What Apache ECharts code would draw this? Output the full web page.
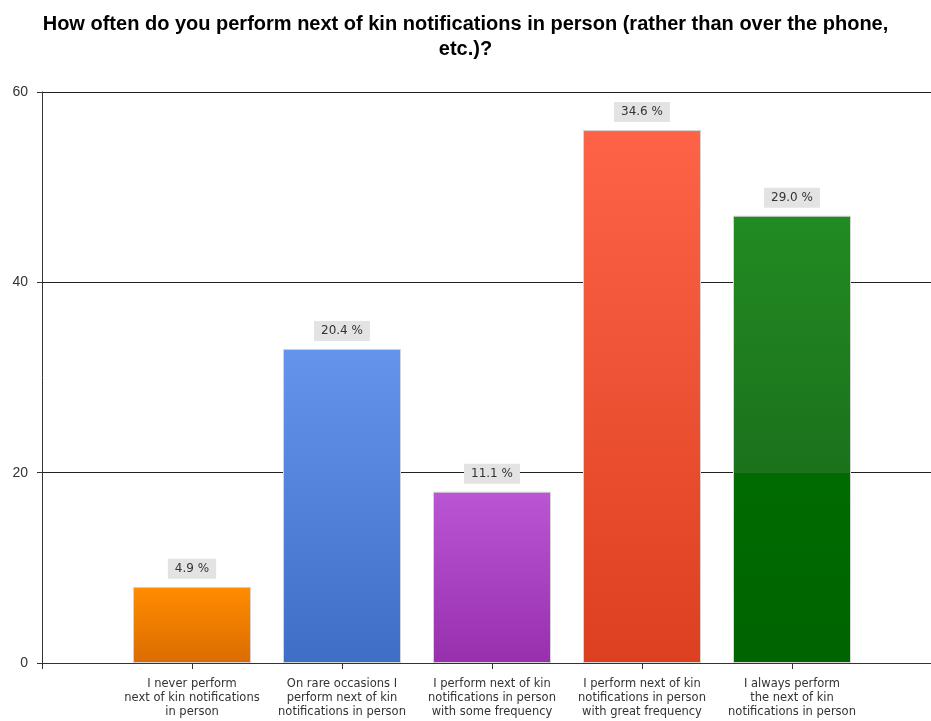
<!DOCTYPE html>
<html>
<head>
<meta charset="utf-8">
<title>Next of kin notifications</title>
<script src="https://cdn.jsdelivr.net/npm/echarts@6/dist/echarts.min.js"></script>
<style>
  html, body { margin: 0; padding: 0; background: #fff; }
  #chart { width: 931px; height: 721px; }
</style>
</head>
<body>
<div id="chart"></div>
<script>
// Survey answers (response counts) and the y-axis scale
const categories = [
  'I never perform\nnext of kin notifications\nin person',
  'On rare occasions I\nperform next of kin\nnotifications in person',
  'I perform next of kin\nnotifications in person\nwith some frequency',
  'I perform next of kin\nnotifications in person\nwith great frequency',
  'I always perform\nthe next of kin\nnotifications in person'
];
const counts = [8, 33, 18, 56, 47];
const yTicks = [0, 20, 40, 60];

const total = counts.reduce((a, b) => a + b, 0);

// Top/bottom colours of each bar's vertical gradient
const barColors = [
  ['#FF8C00', '#DC6C00'],
  ['#6495ED', '#3E6EC6'],
  ['#BA55D3', '#9830AE'],
  ['#FF6347', '#DC4020'],
  ['#228B22', '#006400']
];

function gradientFor(i, value) {
  const [top, bottom] = barColors[i];
  if (i === 4) {
    // the green bar switches shade sharply at the 20 gridline
    const f = Math.max(0, Math.min(1, (value - yTicks[1]) / value));
    return new echarts.graphic.LinearGradient(0, 0, 0, 1, [
      { offset: 0, color: top },
      { offset: f, color: '#1B721B' },
      { offset: f, color: '#006C00' },
      { offset: 1, color: bottom }
    ]);
  }
  return new echarts.graphic.LinearGradient(0, 0, 0, 1, [
    { offset: 0, color: top },
    { offset: 1, color: bottom }
  ]);
}

// Padding slots at both ends so the bars sit on evenly spaced ticks
const axisData = [''].concat(categories, ['']);
const seriesData = [null].concat(counts.map((v, i) => ({
  value: v,
  itemStyle: { color: gradientFor(i, v) }
})), [null]);

const chart = echarts.init(document.getElementById('chart'), null, { renderer: 'canvas' });

chart.setOption({
  animation: false,
  backgroundColor: '#ffffff',
  title: {
    text: 'How often do you perform next of kin notifications in person (rather than over the phone,\netc.)?',
    left: 'center',
    top: 7,
    textStyle: {
      fontFamily: 'Liberation Sans, Arial, sans-serif',
      fontSize: 20,
      fontWeight: 'bold',
      color: '#000',
      lineHeight: 25
    }
  },
  grid: {
    left: 42,
    top: 92,
    width: 900,
    height: 571,
    containLabel: false,
    outerBoundsMode: 'none'
  },
  xAxis: {
    type: 'category',
    data: axisData,
    boundaryGap: false,
    axisLine: { show: true, lineStyle: { color: '#333', width: 1 } },
    axisTick: { show: true, length: 6, lineStyle: { color: '#333' } },
    axisLabel: {
      interval: 0,
      margin: 14,
      fontFamily: 'DejaVu Sans, sans-serif',
      fontSize: 11.5,
      lineHeight: 14,
      color: '#333',
      align: 'center'
    },
    splitLine: { show: false }
  },
  yAxis: {
    type: 'value',
    min: yTicks[0],
    max: yTicks[yTicks.length - 1],
    interval: yTicks[1] - yTicks[0],
    axisLine: { show: true, lineStyle: { color: '#333', width: 1 } },
    axisTick: { show: true, length: 5, lineStyle: { color: '#333' } },
    axisLabel: {
      margin: 14,
      fontFamily: 'Liberation Sans, Arial, sans-serif',
      fontSize: 14,
      color: '#333'
    },
    splitLine: { show: true, lineStyle: { color: '#222', width: 1 } }
  },
  series: [{
    type: 'bar',
    data: seriesData,
    barWidth: 118,
    itemStyle: {
      borderColor: '#d4d4d4',
      borderWidth: 1
    },
    label: {
      show: true,
      position: 'top',
      distance: 8,
      formatter: p => (p.value / total * 100).toFixed(1) + ' %',
      fontFamily: 'DejaVu Sans, sans-serif',
      fontSize: 12,
      lineHeight: 12,
      color: '#333',
      backgroundColor: '#e3e3e3',
      padding: [4, 7, 4, 7]
    }
  }]
});
</script>
</body>
</html>
